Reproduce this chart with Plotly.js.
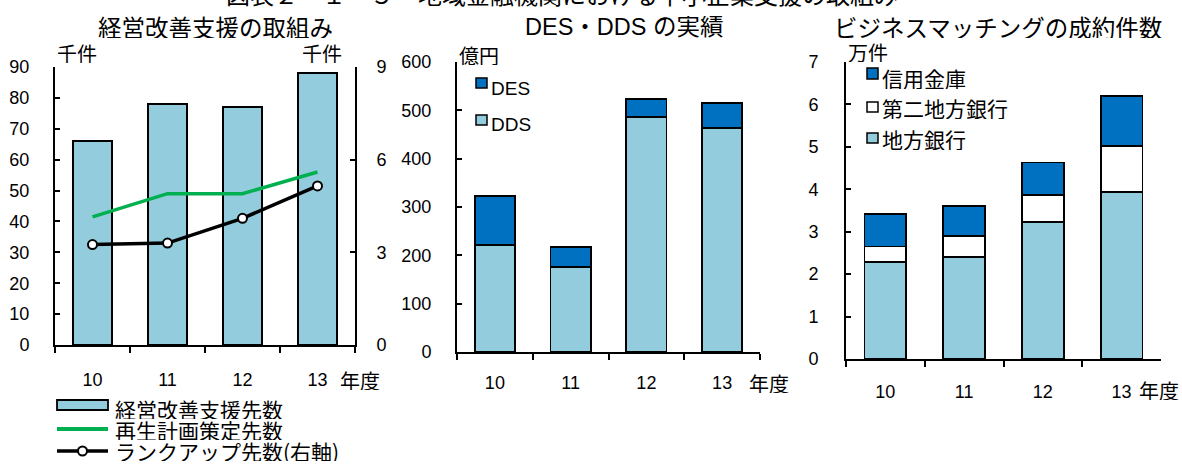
<!DOCTYPE html>
<html><head><meta charset="utf-8">
<script src="https://cdn.plot.ly/plotly-3.0.1.min.js"></script>
<style>html,body{margin:0;padding:0;background:#fff}#chart{width:1182px;height:464px}</style>
</head><body><div id="chart"></div>
<script>
// ---- data ----
const years = ['10', '11', '12', '13'];
// panel 1 (千件)
const supportCount = [66, 78, 77, 88];        // 経営改善支援先数
const planCount = [41.5, 49, 49, 56];         // 再生計画策定先数
const rankUpCount = [3.25, 3.3, 4.1, 5.15];   // ランクアップ先数(右軸)
// panel 2 (億円)
const ddsValues = [222, 176, 487, 463];
const desValues = [101, 42, 37, 52];
// panel 3 (万件)
const regionalBanks = [2.28, 2.41, 3.22, 3.93];
const secondRegionalBanks = [0.37, 0.49, 0.65, 1.09];
const shinkinBanks = [0.76, 0.71, 0.76, 1.17];

const W = 1182, H = 464;
const X = p => p / W;
const Y = p => 1 - p / H;

const LIGHT = '#93CDDD', DARK = '#0070C0', GREEN = '#00B050';
const NUMFONT = 'Liberation Sans, Noto Sans CJK JP, sans-serif';
const JPFONT = 'Noto Sans CJK JP, sans-serif';
const outline = {color: '#000', width: 1.8};

const traces = [
  {type: 'bar', x: years, y: supportCount, xaxis: 'x', yaxis: 'y', marker: {color: LIGHT, line: outline}, name: '経営改善支援先数'},
  {type: 'scatter', mode: 'lines', x: years, y: planCount, xaxis: 'x', yaxis: 'y', line: {color: GREEN, width: 3.5}, name: '再生計画策定先数'},
  {type: 'scatter', mode: 'lines+markers', x: years, y: rankUpCount, xaxis: 'x', yaxis: 'y2', line: {color: '#000', width: 3.5},
   marker: {symbol: 'circle', size: 9, color: '#fff', line: {color: '#000', width: 2}}, name: 'ランクアップ先数(右軸)'},
  {type: 'bar', x: years, y: ddsValues, xaxis: 'x2', yaxis: 'y3', marker: {color: LIGHT, line: outline}, name: 'DDS'},
  {type: 'bar', x: years, y: desValues, xaxis: 'x2', yaxis: 'y3', marker: {color: DARK, line: outline}, name: 'DES'},
  {type: 'bar', x: years, y: regionalBanks, xaxis: 'x3', yaxis: 'y4', marker: {color: LIGHT, line: outline}, name: '地方銀行'},
  {type: 'bar', x: years, y: secondRegionalBanks, xaxis: 'x3', yaxis: 'y4', marker: {color: '#fff', line: outline}, name: '第二地方銀行'},
  {type: 'bar', x: years, y: shinkinBanks, xaxis: 'x3', yaxis: 'y4', marker: {color: DARK, line: outline}, name: '信用金庫'}
];

function xAx(d0, d1, anchor, standoff) {
  return {domain: [X(d0), X(d1)], anchor: anchor, type: 'category', range: [-0.5, 3.5],
    tickson: 'boundaries', ticks: 'outside', ticklen: 6, tickwidth: 2, tickcolor: '#000',
    showline: true, linewidth: 2, linecolor: '#000', showgrid: false, zeroline: false,
    tickfont: {family: NUMFONT, size: 18, color: '#000'}, ticklabelstandoff: standoff, fixedrange: true};
}
function yAx(top, bottom, range, dtick, anchor, standoff, extra) {
  return Object.assign({domain: [Y(bottom), Y(top)], anchor: anchor, range: range, dtick: dtick,
    ticks: 'inside', ticklen: 5, tickwidth: 2, tickcolor: '#000',
    showline: true, linewidth: 2, linecolor: '#000', showgrid: false, zeroline: false,
    tickfont: {family: NUMFONT, size: 18, color: '#000'}, ticklabelstandoff: standoff, fixedrange: true}, extra || {});
}

const ann = (text, px, py, size, xanchor, font, h) => {
  const a = {
    text: text, x: X(px), y: Y(py), xref: 'paper', yref: 'paper', xanchor: xanchor || 'center', yanchor: 'middle',
    showarrow: false, borderpad: 0, font: {family: font || JPFONT, size: size, color: '#000'}
  };
  if (h) a.height = h;
  return a;
};

const annotations = [
  Object.assign(ann('図表２－１－５　地域金融機関における中小企業支援の取組み', 562, 0, 24), {yanchor: 'bottom', y: Y(12)}),
  ann('経営改善支援の取組み', 215, 27, 23.5, 'center', JPFONT, 22),
  ann('DES・DDS の実績', 624, 27, 23.5, 'center', NUMFONT, 22),
  ann('ビジネスマッチングの成約件数', 998, 27, 23.5, 'center', JPFONT, 22),
  ann('千件', 77, 53, 20, 'center', JPFONT, 20),
  ann('千件', 322, 53, 20, 'center', JPFONT, 20),
  ann('億円', 479, 55, 20, 'center', JPFONT, 20),
  ann('万件', 868, 52, 20, 'center', JPFONT, 20),
  ann('年度', 360, 380, 20, 'center', JPFONT, 20),
  ann('年度', 769, 383, 20, 'center', JPFONT, 20),
  ann('年度', 1159, 390, 20, 'center', JPFONT, 20),
  // legend texts
  ann('経営改善支援先数', 114, 409, 21, 'left', JPFONT, 20),
  ann('再生計画策定先数', 114, 430, 21, 'left', JPFONT, 20),
  ann('ランクアップ先数(右軸)', 114, 451, 21, 'left', JPFONT, 20),
  ann('DES', 490, 88, 19, 'left', NUMFONT, 20),
  ann('DDS', 490, 124, 19, 'left', NUMFONT, 20),
  ann('信用金庫', 881, 78, 21, 'left', JPFONT, 22),
  ann('第二地方銀行', 881, 108, 21, 'left', JPFONT, 22),
  ann('地方銀行', 881, 139, 21, 'left', JPFONT, 22)
];

const rect = (x0, y0, x1, y1, fill, lw) => ({type: 'rect', xref: 'paper', yref: 'paper',
  x0: X(x0), x1: X(x1), y0: Y(y1), y1: Y(y0), fillcolor: fill, line: {color: '#000', width: lw || 1.5}});
const shapes = [
  rect(57, 400, 108, 410, LIGHT, 1.8),
  {type: 'line', xref: 'paper', yref: 'paper', x0: X(57), x1: X(108), y0: Y(429), y1: Y(429), line: {color: GREEN, width: 4}},
  {type: 'line', xref: 'paper', yref: 'paper', x0: X(57), x1: X(108), y0: Y(451), y1: Y(451), line: {color: '#000', width: 3.5}},
  {type: 'circle', xref: 'paper', yref: 'paper', x0: X(78), x1: X(87), y0: Y(455.5), y1: Y(446.5), fillcolor: '#fff', line: {color: '#000', width: 2}},
  rect(476, 78, 487, 88, DARK),
  rect(476, 115, 487, 125, LIGHT),
  rect(867, 68, 878, 79, DARK),
  rect(867, 102, 878, 112, '#fff'),
  rect(867, 133, 878, 143, LIGHT)
];

const layout = {
  width: W, height: H, margin: {l: 0, r: 0, t: 0, b: 0},
  paper_bgcolor: '#fff', plot_bgcolor: 'rgba(0,0,0,0)',
  showlegend: false, barmode: 'stack', bargap: 0.47,
  xaxis: xAx(55, 355, 'y', 17),
  yaxis: yAx(67, 345, [0, 90], 10, 'x', 20),
  yaxis2: yAx(67, 345, [0, 9], 3, 'x', 16, {overlaying: 'y', side: 'right'}),
  xaxis2: xAx(457, 760, 'y3', 13),
  yaxis3: yAx(62, 352, [0, 600], 100, 'x2', 20),
  xaxis3: xAx(846, 1161, 'y4', 15),
  yaxis4: yAx(62, 359, [0, 7], 1, 'x3', 22),
  annotations: annotations,
  shapes: shapes
};

Plotly.newPlot('chart', traces, layout, {displayModeBar: false, staticPlot: true});
</script></body></html>
